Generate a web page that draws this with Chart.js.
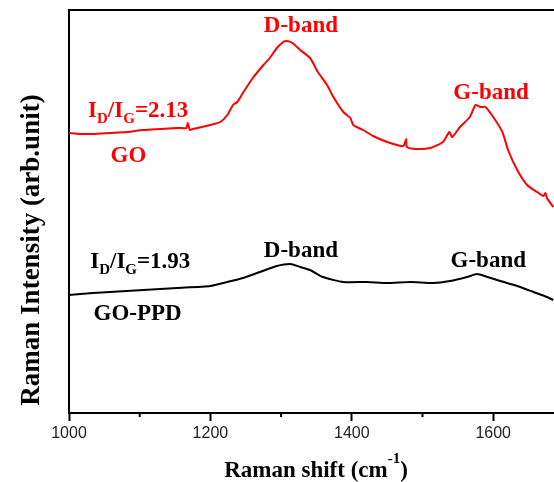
<!DOCTYPE html>
<html>
<head>
<meta charset="utf-8">
<script src="https://cdn.jsdelivr.net/npm/chart.js@4/dist/chart.umd.min.js"></script>
<style>
  body { margin: 0; background: #fff; }
  #wrap { width: 554px; height: 482px; position: relative; }
</style>
</head>
<body>
<div id="wrap"><canvas id="myChart"></canvas></div>
<script>
// Raman shift (cm-1) and intensity (arb. unit)
const goShift = [1000, 1016, 1034, 1058, 1082, 1105, 1129, 1153, 1166, 1168, 1171, 1175, 1200, 1214, 1224, 1232, 1238, 1246, 1260, 1275, 1284, 1294, 1303, 1308, 1316, 1327, 1341, 1352, 1365, 1374, 1388, 1398, 1402, 1416, 1430, 1450, 1464, 1473, 1477, 1478, 1492, 1511, 1529, 1538, 1542, 1553, 1567, 1575, 1582, 1589, 1600, 1613, 1621, 1634, 1648, 1662, 1671, 1674, 1676, 1685];
const goIntensity = [280, 279, 279, 280, 281, 283, 284, 285, 285, 290, 283, 284, 288, 291, 298, 308, 311, 320, 335, 348, 355, 365, 371, 372, 370, 363, 355, 341, 328, 316, 301, 295, 288, 283, 277, 271, 268, 267, 274, 266, 264, 265, 271, 281, 276, 286, 296, 308, 306, 306, 296, 281, 263, 243, 228, 221, 217, 220, 215, 206];

const ppdShift = [1000, 1016, 1034, 1058, 1105, 1153, 1200, 1224, 1246, 1270, 1294, 1313, 1327, 1341, 1359, 1388, 1422, 1450, 1483, 1515, 1539, 1563, 1577, 1592, 1610, 1634, 1657, 1676, 1685];
const ppdIntensity = [118, 119, 120, 121, 123, 125, 127, 131, 135, 141, 147, 149, 146, 143, 136, 131, 131, 130, 131, 130, 132, 136, 139, 136, 132, 127, 121, 116, 113];

const majorTicks = [1000, 1200, 1400, 1600];

// text labels in the plot: [x, y] in data units
const notes = [
  { parts: [['D-band']], x: 1328, y: 381, color: '#ff0000', align: 'center' },
  { parts: [['G-band']], x: 1597, y: 314, color: '#ff0000', align: 'center' },
  { parts: [['I'], ['D', 'sub'], ['/I'], ['G', 'sub'], ['=2.13']], x: 1027, y: 296, color: '#ff0000', align: 'left' },
  { parts: [['GO']], x: 1084, y: 251, color: '#ff0000', align: 'center' },
  { parts: [['I'], ['D', 'sub'], ['/I'], ['G', 'sub'], ['=1.93']], x: 1030, y: 145, color: '#000', align: 'left' },
  { parts: [['GO-PPD']], x: 1097, y: 93, color: '#000', align: 'center' },
  { parts: [['D-band']], x: 1328, y: 156, color: '#000', align: 'center' },
  { parts: [['G-band']], x: 1593, y: 146, color: '#000', align: 'center' }
];

const serif = '"Liberation Serif", "Times New Roman", serif';

const toPoints = (xs, ys) => xs.map((x, i) => ({ x: x, y: ys[i] }));

// draws text made of normal / sub / sup pieces
function drawRich(ctx, parts, x, y, size, align) {
  const small = Math.round(size * 0.66);
  const fontOf = p => 'bold ' + (p[1] ? small : size) + 'px ' + serif;
  let total = 0;
  parts.forEach(p => { ctx.font = fontOf(p); total += ctx.measureText(p[0]).width; });
  let cx = align === 'center' ? x - total / 2 : x;
  ctx.textAlign = 'left';
  ctx.textBaseline = 'alphabetic';
  parts.forEach(p => {
    ctx.font = fontOf(p);
    let dy = 0;
    if (p[1] === 'sub') dy = 6;
    if (p[1] === 'sup') dy = -14;
    ctx.fillText(p[0], cx, y + dy);
    cx += ctx.measureText(p[0]).width;
  });
}

const extras = {
  id: 'extras',
  afterDraw(chart) {
    const ctx = chart.ctx;
    const area = chart.chartArea;
    const xs = chart.scales.x;
    const ys = chart.scales.y;
    ctx.save();
    // top frame line
    ctx.strokeStyle = '#000';
    ctx.lineWidth = 2;
    ctx.beginPath();
    ctx.moveTo(area.left, area.top);
    ctx.lineTo(area.right, area.top);
    ctx.stroke();
    // minor ticks
    ctx.lineWidth = 2;
    xs.ticks.forEach(t => {
      if (majorTicks.includes(t.value)) return;
      const px = xs.getPixelForValue(t.value);
      ctx.beginPath();
      ctx.moveTo(px, area.bottom);
      ctx.lineTo(px, area.bottom + 4);
      ctx.stroke();
    });
    // notes
    notes.forEach(n => {
      ctx.fillStyle = n.color;
      drawRich(ctx, n.parts, xs.getPixelForValue(n.x), ys.getPixelForValue(n.y), 23, n.align);
    });
    // axis titles
    ctx.fillStyle = '#000';
    drawRich(ctx, [['Raman shift (cm'], ['-1', 'sup'], [')']], 316, 477, 23, 'center');
    ctx.translate(32, 250);
    ctx.rotate(-Math.PI / 2);
    ctx.font = 'bold 27px ' + serif;
    ctx.textAlign = 'center';
    ctx.textBaseline = 'middle';
    ctx.fillText('Raman Intensity (arb.unit)', 0, 0);
    ctx.restore();
  }
};

new Chart(document.getElementById('myChart'), {
  type: 'line',
  data: {
    datasets: [
      {
        label: 'GO',
        data: toPoints(goShift, goIntensity),
        borderColor: '#ff0000',
        borderWidth: 2,
        pointRadius: 0,
        tension: 0.2
      },
      {
        label: 'GO-PPD',
        data: toPoints(ppdShift, ppdIntensity),
        borderColor: '#000',
        borderWidth: 2,
        pointRadius: 0,
        tension: 0.2
      }
    ]
  },
  options: {
    responsive: true,
    maintainAspectRatio: false,
    animation: false,
    layout: { padding: { top: 10, left: 0, right: 0, bottom: 0 } },
    plugins: {
      legend: { display: false },
      tooltip: { enabled: false }
    },
    scales: {
      x: {
        type: 'linear',
        min: 1000,
        max: 1686,
        afterFit: s => { s.height = 69; },
        border: { display: true, color: '#000', width: 2 },
        grid: {
          display: true,
          drawOnChartArea: false,
          tickLength: 8,
          tickWidth: 2,
          tickColor: c => (c.tick && majorTicks.includes(c.tick.value)) ? '#000' : 'rgba(0,0,0,0)'
        },
        ticks: {
          stepSize: 100,
          includeBounds: false,
          maxRotation: 0,
          autoSkip: false,
          padding: 3,
          color: '#222',
          font: { family: '"Liberation Sans", Arial, sans-serif', size: 16 },
          callback: v => majorTicks.includes(v) ? String(v) : ''
        }
      },
      y: {
        type: 'linear',
        min: 0,
        max: 403,
        afterFit: s => { s.width = 69; },
        border: { display: true, color: '#000', width: 2 },
        grid: { display: false, drawTicks: false },
        ticks: { display: false }
      }
    }
  },
  plugins: [extras]
});
</script>
</body>
</html>
